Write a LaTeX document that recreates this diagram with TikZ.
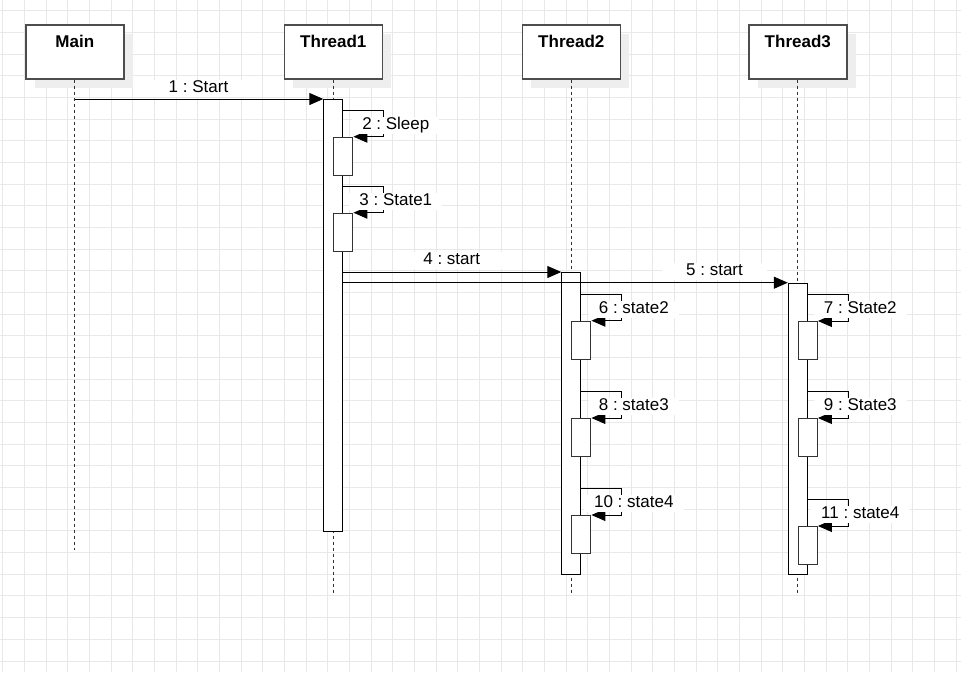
\documentclass[tikz,border=0pt]{standalone}
\usepackage{fontspec}
\setmainfont{Liberation Sans}
\usetikzlibrary{arrows.meta,calc}
\definecolor{gridc}{HTML}{E8E8E8}
\definecolor{shadowc}{HTML}{EEEEEE}
\definecolor{boxc}{HTML}{4D4D4D}
\begin{document}
\frenchspacing
\begin{tikzpicture}[x=1pt,y=-1pt,
  gridl/.style={draw=gridc,line width=1pt},
  header/.style={draw=boxc,line width=1.6pt,fill=white,minimum width=98pt,minimum height=54pt,inner sep=0pt,anchor=north west},
  shadowbox/.style={fill=shadowc,minimum width=98pt,minimum height=54pt,inner sep=0pt,anchor=north west},
  title/.style={font=\fontsize{17pt}{20pt}\selectfont\bfseries,text height=12.2pt,text depth=0pt,inner sep=0pt},
  life/.style={draw=black!80,line width=1pt,dash pattern=on 3pt off 3pt},
  bar/.style={draw=black,line width=1pt,fill=white,minimum width=19pt,inner sep=0pt,anchor=north},
  act/.style={draw=black!80,line width=1.3pt,fill=white,minimum width=19pt,minimum height=38pt,inner sep=0pt,anchor=north},
  msg/.style={draw=black,line width=1pt,-{Triangle[length=14pt,width=12pt]}},
  lbl/.style={fill=white,font=\fontsize{17pt}{20pt}\selectfont,text height=12.2pt,text depth=3.6pt,inner xsep=24pt,inner ysep=0.5pt},
  slbl/.style={lbl,inner xsep=10pt}]
\useasboundingbox[fill=white] (0,0) rectangle (961,672);
% grid
\foreach \i in {0,...,44} \draw[gridl] ({2.7+21.67*\i},0) -- ({2.7+21.67*\i},672);
\foreach \j in {0,...,30} \draw[gridl] (0,{10.9+21.67*\j}) -- (961,{10.9+21.67*\j});
% header shadows and boxes
\node[shadowbox] (shMain) at (34.5,33.7) {};
\node[shadowbox] (shT1) at (293,33.7) {};
\node[shadowbox] (shT2) at (531,33.7) {};
\node[shadowbox] (shT3) at (757.5,33.7) {};
\node[header] (hMain) at (25,24) {};
\node[header] (hT1) at (283.5,24) {};
\node[header] (hT2) at (521.5,24) {};
\node[header] (hT3) at (748,24) {};
\node[title] (tMain) at (hMain.center |- 0,41) {Main};
\node[title] (tT1) at (hT1.center |- 0,41) {Thread1};
\node[title] (tT2) at (hT2.center |- 0,41) {Thread2};
\node[title] (tT3) at (hT3.center |- 0,41) {Thread3};
% lifelines
\coordinate (eMain) at (hMain.south |- 0,550);
\coordinate (eT1) at (hT1.south |- 0,593);
\coordinate (eT2) at (hT2.south |- 0,593);
\coordinate (eT3) at (hT3.south |- 0,593);
\draw[life] (hMain.south) -- (eMain);
\draw[life] (hT1.south) -- (eT1);
\draw[life] (hT2.south) -- (eT2);
\draw[life] (hT3.south) -- (eT3);
% activation bars
\node[bar,minimum height=432pt] (bT1) at (hT1.south |- 0,99) {};
\node[bar,minimum height=302.3pt] (bT2) at (hT2.south |- 0,272) {};
\node[bar,minimum height=291.6pt] (bT3) at (hT3.south |- 0,282.7) {};
% messages between threads
\coordinate (m1) at (hMain.south |- 0,99);
\draw[msg] (m1) -- (bT1.north west);
\draw[msg] (bT1.east |- bT2.north) -- (bT2.north west);
\draw[msg] (bT1.east |- bT3.north) -- (bT3.north west);
\node[lbl] (l1) at (198.5,88.5) {1 : Start};
\node[lbl] (l4) at (451.7,260.1) {4 : start};
\node[lbl] (l5) at (714.5,271.1) {5 : start};
% nested activations
\node[act] (s2) at (bT1.east |- 0,136.7) {};
\node[act] (s3) at (bT1.east |- 0,212.7) {};
\node[act] (s6) at (bT2.east |- 0,320.7) {};
\node[act] (s8) at (bT2.east |- 0,418) {};
\node[act] (s10) at (bT2.east |- 0,515) {};
\node[act] (s7) at (bT3.east |- 0,321) {};
\node[act] (s9) at (bT3.east |- 0,418) {};
\node[act] (s11) at (bT3.east |- 0,526) {};
% self calls
\foreach \s/\t in {s2/2 : Sleep,s3/3 : State1,s6/6 : state2,s8/8 : state3,s10/10 : state4,s7/7 : State2,s9/9 : State3,s11/11 : state4}{
  \draw[msg] ($(\s.north)+(0,-26.5)$) -- ++(40.5,0) |- (\s.north east);
  \node[slbl] (l\s) at ($(\s.north)+(52.5,-11.45)$) {\t};
}
\end{tikzpicture}
\end{document}
